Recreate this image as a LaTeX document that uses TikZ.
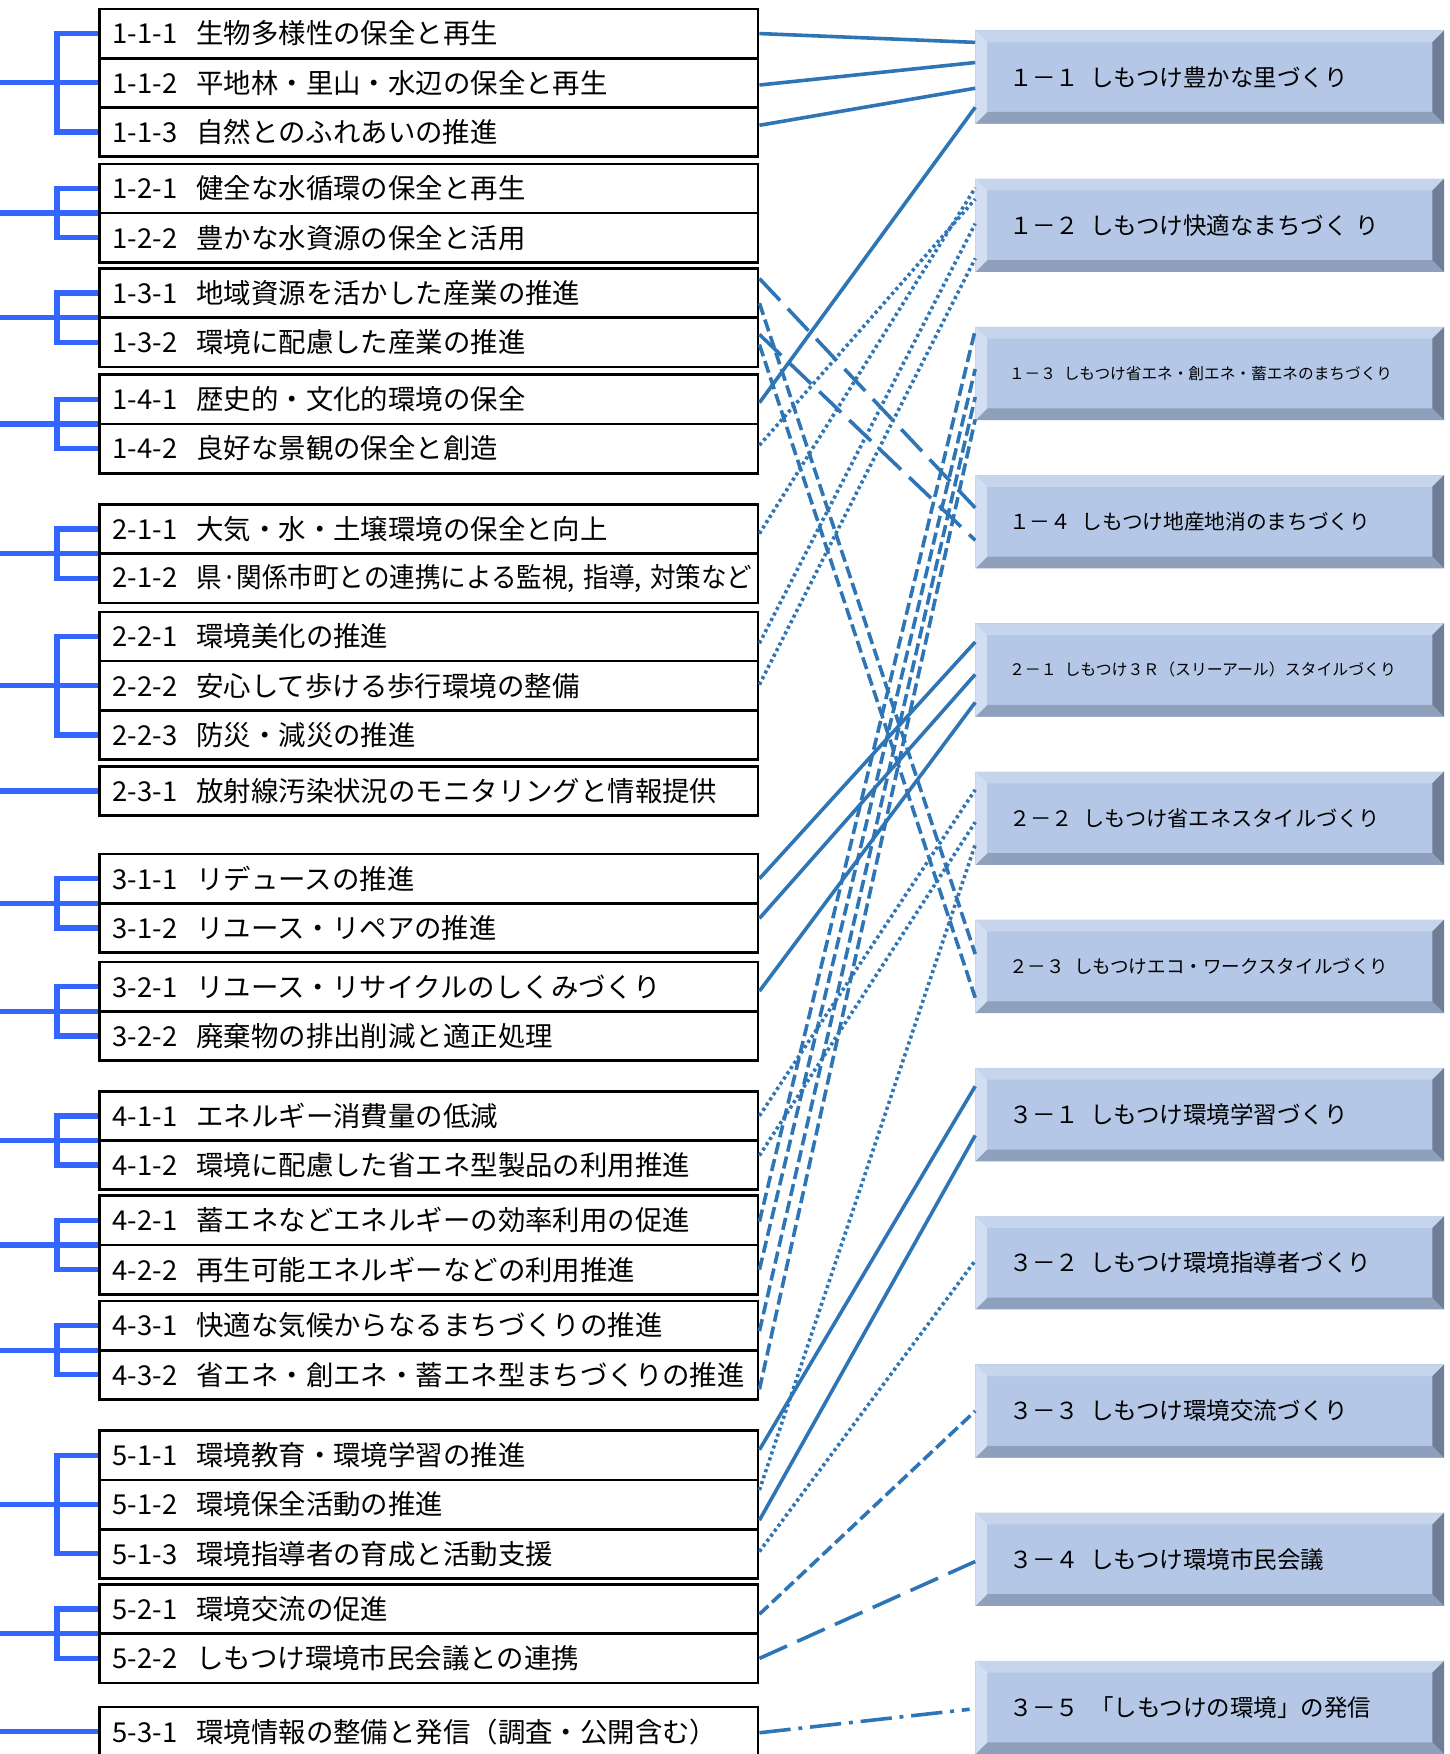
\documentclass[tikz,border=0pt]{standalone}
\usepackage{fontspec}
\setmainfont{Noto Sans CJK JP}
\usepackage{graphicx}
\usetikzlibrary{calc}
\definecolor{brC}{HTML}{3366FF}
\definecolor{lnC}{HTML}{2E75B6}
\definecolor{faceC}{HTML}{B4C7E6}
\definecolor{topC}{HTML}{C6D4EC}
\definecolor{leftC}{HTML}{D2DEF1}
\definecolor{botC}{HTML}{8FA0BC}
\definecolor{rightC}{HTML}{6F7D96}
\newcommand\rowtxt[2]{\makebox[75pt][l]{#1}#2}
\begin{document}
\begin{tikzpicture}[x=1pt,y=-1pt,
  row/.style={draw=black, line width=2.4pt, rectangle, anchor=west, minimum height=44pt,
    text width=565pt, inner xsep=12pt, inner ysep=0pt, align=left,
    font={\fontsize{24.5pt}{29pt}\selectfont}},
  rbox/.style={rectangle, minimum width=419pt, minimum height=83.4pt, inner sep=0pt, fill=faceC,
    path picture={
      \fill[topC] (path picture bounding box.north west) -- (path picture bounding box.north east)
        -- ([xshift=-10.5pt,yshift=-10.5pt]path picture bounding box.north east)
        -- ([xshift=10.5pt,yshift=-10.5pt]path picture bounding box.north west) -- cycle;
      \fill[botC] (path picture bounding box.south west) -- (path picture bounding box.south east)
        -- ([xshift=-10.5pt,yshift=10.5pt]path picture bounding box.south east)
        -- ([xshift=10.5pt,yshift=10.5pt]path picture bounding box.south west) -- cycle;
      \fill[leftC] (path picture bounding box.north west)
        -- ([xshift=10.5pt,yshift=-10.5pt]path picture bounding box.north west)
        -- ([xshift=10.5pt,yshift=10.5pt]path picture bounding box.south west)
        -- (path picture bounding box.south west) -- cycle;
      \fill[rightC] (path picture bounding box.north east)
        -- ([xshift=-10.5pt,yshift=-10.5pt]path picture bounding box.north east)
        -- ([xshift=-10.5pt,yshift=10.5pt]path picture bounding box.south east)
        -- (path picture bounding box.south east) -- cycle;
    }},
  rlab/.style={anchor=west, inner sep=0pt, text=black},
  br/.style={draw=brC, line width=4.8pt, line join=miter},
  cBase/.style={draw=lnC, line width=3.2pt},
  cSolid/.style={cBase},
  cDot/.style={cBase, dash pattern=on 2.8pt off 2.8pt},
  cDash/.style={cBase, dash pattern=on 11pt off 4.5pt},
  cLong/.style={cBase, dash pattern=on 27pt off 10pt},
  cDashDot/.style={cBase, dash pattern=on 28pt off 7pt on 3.5pt off 7pt}
]
\useasboundingbox (0,0) rectangle (1296,1568);
\fill[white] (0,0) rectangle (1296,1568);

% ---------- left rows ----------
\node[row] (L111) at (87.5,30) {\rowtxt{1-1-1}{生物多様性の保全と再生}};
\node[row] (L112) at (87.5,74) {\rowtxt{1-1-2}{平地林・里山・水辺の保全と再生}};
\node[row] (L113) at (87.5,118) {\rowtxt{1-1-3}{自然とのふれあいの推進}};
\node[row] (L121) at (87.5,168.5) {\rowtxt{1-2-1}{健全な水循環の保全と再生}};
\node[row] (L122) at (87.5,212.5) {\rowtxt{1-2-2}{豊かな水資源の保全と活用}};
\node[row] (L131) at (87.5,262) {\rowtxt{1-3-1}{地域資源を活かした産業の推進}};
\node[row] (L132) at (87.5,306) {\rowtxt{1-3-2}{環境に配慮した産業の推進}};
\node[row] (L141) at (87.5,357) {\rowtxt{1-4-1}{歴史的・文化的環境の保全}};
\node[row] (L142) at (87.5,401) {\rowtxt{1-4-2}{良好な景観の保全と創造}};
\node[row] (L211) at (87.5,473) {\rowtxt{2-1-1}{大気・水・土壌環境の保全と向上}};
\node[row] (L212) at (87.5,517) {\rowtxt{2-1-2}{\resizebox{497pt}{\height}{県·関係市町との連携による監視, 指導, 対策など}}};
\node[row] (L221) at (87.5,569) {\rowtxt{2-2-1}{環境美化の推進}};
\node[row] (L222) at (87.5,613) {\rowtxt{2-2-2}{安心して歩ける歩行環境の整備}};
\node[row] (L223) at (87.5,657) {\rowtxt{2-2-3}{防災・減災の推進}};
\node[row] (L231) at (87.5,707) {\rowtxt{2-3-1}{放射線汚染状況のモニタリングと情報提供}};
\node[row] (L311) at (87.5,785.5) {\rowtxt{3-1-1}{リデュースの推進}};
\node[row] (L312) at (87.5,829.5) {\rowtxt{3-1-2}{リユース・リペアの推進}};
\node[row] (L321) at (87.5,882) {\rowtxt{3-2-1}{リユース・リサイクルのしくみづくり}};
\node[row] (L322) at (87.5,926) {\rowtxt{3-2-2}{廃棄物の排出削減と適正処理}};
\node[row] (L411) at (87.5,997.5) {\rowtxt{4-1-1}{エネルギー消費量の低減}};
\node[row] (L412) at (87.5,1041.5) {\rowtxt{4-1-2}{環境に配慮した省エネ型製品の利用推進}};
\node[row] (L421) at (87.5,1091) {\rowtxt{4-2-1}{蓄エネなどエネルギーの効率利用の促進}};
\node[row] (L422) at (87.5,1135) {\rowtxt{4-2-2}{再生可能エネルギーなどの利用推進}};
\node[row] (L431) at (87.5,1185) {\rowtxt{4-3-1}{快適な気候からなるまちづくりの推進}};
\node[row] (L432) at (87.5,1229) {\rowtxt{4-3-2}{省エネ・創エネ・蓄エネ型まちづくりの推進}};
\node[row] (L511) at (87.5,1301) {\rowtxt{5-1-1}{環境教育・環境学習の推進}};
\node[row] (L512) at (87.5,1345) {\rowtxt{5-1-2}{環境保全活動の推進}};
\node[row] (L513) at (87.5,1389) {\rowtxt{5-1-3}{環境指導者の育成と活動支援}};
\node[row] (L521) at (87.5,1438.5) {\rowtxt{5-2-1}{環境交流の促進}};
\node[row] (L522) at (87.5,1482.5) {\rowtxt{5-2-2}{しもつけ環境市民会議との連携}};
\node[row] (L531) at (87.5,1548) {\rowtxt{5-3-1}{環境情報の整備と発信（調査・公開含む）}};

% ---------- right boxes ----------
\node[rbox] (R11) at (1081.5,68.9) {};
\node[rbox] (R12) at (1081.5,201.4) {};
\node[rbox] (R13) at (1081.5,333.9) {};
\node[rbox] (R14) at (1081.5,466.4) {};
\node[rbox] (R21) at (1081.5,598.9) {};
\node[rbox] (R22) at (1081.5,731.4) {};
\node[rbox] (R23) at (1081.5,863.9) {};
\node[rbox] (R31) at (1081.5,996.4) {};
\node[rbox] (R32) at (1081.5,1128.9) {};
\node[rbox] (R33) at (1081.5,1261.4) {};
\node[rbox] (R34) at (1081.5,1393.9) {};
\node[rbox] (R35) at (1081.5,1526.4) {};

\node[rlab, font={\fontsize{21pt}{25pt}\selectfont}] (t11) at ([xshift=30pt]R11.west) {１－１\hspace{0.45em}しもつけ豊かな里づくり};
\node[rlab, font={\fontsize{21pt}{25pt}\selectfont}] (t12) at ([xshift=30pt]R12.west) {１－２\hspace{0.45em}しもつけ快適なまちづく\hspace{0.35em}り};
\node[rlab, font={\fontsize{14pt}{17pt}\selectfont}] (t13) at ([xshift=30pt]R13.west) {１－３\hspace{0.5em}しもつけ省エネ・創エネ・蓄エネのまちづくり};
\node[rlab, font={\fontsize{18.5pt}{22pt}\selectfont}] (t14) at ([xshift=30pt]R14.west) {１－４\hspace{0.5em}しもつけ地産地消のまちづくり};
\node[rlab, font={\fontsize{14.2pt}{17pt}\selectfont}] (t21) at ([xshift=30pt]R21.west) {２－１\hspace{0.5em}しもつけ３Ｒ（スリーアール）スタイルづくり};
\node[rlab, font={\fontsize{19pt}{23pt}\selectfont}] (t22) at ([xshift=30pt]R22.west) {２－２\hspace{0.5em}しもつけ省エネスタイルづくり};
\node[rlab, font={\fontsize{16.6pt}{20pt}\selectfont}] (t23) at ([xshift=30pt]R23.west) {２－３\hspace{0.5em}しもつけエコ・ワークスタイルづくり};
\node[rlab, font={\fontsize{21pt}{25pt}\selectfont}] (t31) at ([xshift=30pt]R31.west) {３－１\hspace{0.45em}しもつけ環境学習づくり};
\node[rlab, font={\fontsize{21pt}{25pt}\selectfont}] (t32) at ([xshift=30pt]R32.west) {３－２\hspace{0.45em}しもつけ環境指導者づくり};
\node[rlab, font={\fontsize{21pt}{25pt}\selectfont}] (t33) at ([xshift=30pt]R33.west) {３－３\hspace{0.45em}しもつけ環境交流づくり};
\node[rlab, font={\fontsize{21pt}{25pt}\selectfont}] (t34) at ([xshift=30pt]R34.west) {３－４\hspace{0.45em}しもつけ環境市民会議};
\node[rlab, font={\fontsize{21pt}{25pt}\selectfont}] (t35) at ([xshift=30pt]R35.west) {３－５\hspace{0.45em}「しもつけの環境」の発信};

% ---------- brackets ----------
\coordinate (bx) at (51,0);
\coordinate (x0) at (0,0);
\coordinate (m12) at ($(L121.west)!0.5!(L122.west)$);
\coordinate (m13) at ($(L131.west)!0.5!(L132.west)$);
\coordinate (m14) at ($(L141.west)!0.5!(L142.west)$);
\coordinate (m21) at ($(L211.west)!0.5!(L212.west)$);
\coordinate (m31) at ($(L311.west)!0.5!(L312.west)$);
\coordinate (m32) at ($(L321.west)!0.5!(L322.west)$);
\coordinate (m41) at ($(L411.west)!0.5!(L412.west)$);
\coordinate (m42) at ($(L421.west)!0.5!(L422.west)$);
\coordinate (m43) at ($(L431.west)!0.5!(L432.west)$);
\coordinate (m52) at ($(L521.west)!0.5!(L522.west)$);

\draw[br] (L111.west) -- (L111.west -| bx) -- (L113.west -| bx) -- (L113.west);
\draw[br] (L112.west) -- (L112.west -| x0);
\draw[br] (L121.west) -- (L121.west -| bx) -- (L122.west -| bx) -- (L122.west);
\draw[br] (m12) -- (m12 -| x0);
\draw[br] (L131.west) -- (L131.west -| bx) -- (L132.west -| bx) -- (L132.west);
\draw[br] (m13) -- (m13 -| x0);
\draw[br] (L141.west) -- (L141.west -| bx) -- (L142.west -| bx) -- (L142.west);
\draw[br] (m14) -- (m14 -| x0);
\draw[br] (L211.west) -- (L211.west -| bx) -- (L212.west -| bx) -- (L212.west);
\draw[br] (m21) -- (m21 -| x0);
\draw[br] (L221.west) -- (L221.west -| bx) -- (L223.west -| bx) -- (L223.west);
\draw[br] (L222.west) -- (L222.west -| x0);
\draw[br] (L231.west) -- (L231.west -| x0);
\draw[br] (L311.west) -- (L311.west -| bx) -- (L312.west -| bx) -- (L312.west);
\draw[br] (m31) -- (m31 -| x0);
\draw[br] (L321.west) -- (L321.west -| bx) -- (L322.west -| bx) -- (L322.west);
\draw[br] (m32) -- (m32 -| x0);
\draw[br] (L411.west) -- (L411.west -| bx) -- (L412.west -| bx) -- (L412.west);
\draw[br] (m41) -- (m41 -| x0);
\draw[br] (L421.west) -- (L421.west -| bx) -- (L422.west -| bx) -- (L422.west);
\draw[br] (m42) -- (m42 -| x0);
\draw[br] (L431.west) -- (L431.west -| bx) -- (L432.west -| bx) -- (L432.west);
\draw[br] (m43) -- (m43 -| x0);
\draw[br] (L511.west) -- (L511.west -| bx) -- (L513.west -| bx) -- (L513.west);
\draw[br] (L512.west) -- (L512.west -| x0);
\draw[br] (L521.west) -- (L521.west -| bx) -- (L522.west -| bx) -- (L522.west);
\draw[br] (m52) -- (m52 -| x0);
\draw[br] (L531.west) -- (L531.west -| x0);

% ---------- connectors ----------
% solid
\draw[cSolid] (L111.east) -- ($(R11.west)+(0,-31)$);
\draw[cSolid] ($(L112.east)+(0,2)$) -- ($(R11.west)+(0,-13)$);
\draw[cSolid] ($(L113.east)+(0,-6)$) -- ($(R11.west)+(0,10)$);
\draw[cSolid] ($(L141.east)+(0,3)$) -- ($(R11.west)+(0,27)$);
\draw[cSolid] (L311.east) -- ($(R21.west)+(0,-25)$);
\draw[cSolid] ($(L312.east)+(0,-8.5)$) -- ($(R21.west)+(0,4)$);
\draw[cSolid] ($(L321.east)+(0,4)$) -- ($(R21.west)+(0,29)$);
\draw[cSolid] ($(L511.east)+(0,-5)$) -- ($(R31.west)+(0,-25.4)$);
\draw[cSolid] ($(L512.east)+(0,14)$) -- ($(R31.west)+(0,18.6)$);
% dotted
\draw[cDot] ($(L142.east)+(0,-3)$) -- ($(R12.west)+(0,-23.4)$);
\draw[cDot] ($(L211.east)+(0,4)$) -- ($(R12.west)+(0,-33.4)$);
\draw[cDot] ($(L221.east)+(0,6)$) -- ($(R12.west)+(0,-1.4)$);
\draw[cDot] ($(L222.east)+(0,-1)$) -- ($(R12.west)+(0,29.6)$);
\draw[cDot] (L411.east) -- ($(R22.west)+(0,-25.4)$);
\draw[cDot] ($(L412.east)+(0,-8.5)$) -- ($(R22.west)+(0,3.6)$);
\draw[cDot] ($(L512.east)+(0,-13)$) -- ($(R22.west)+(0,23.6)$);
\draw[cDot] ($(L513.east)+(0,-2)$) -- ($(R32.west)+(0,-2)$);
% dashed
\draw[cDash] ($(L421.east)+(0,1)$) -- ($(R13.west)+(0,-39)$);
\draw[cDash] (L422.east) -- ($(R13.west)+(0,-4)$);
\draw[cDash] ($(L431.east)+(0,5)$) -- ($(R13.west)+(0,21)$);
\draw[cDash] ($(L432.east)+(0,13)$) -- ($(R13.west)+(0,41)$);
\draw[cDash] ($(L131.east)+(0,9)$) -- ($(R23.west)+(0,-11)$);
\draw[cDash] ($(L132.east)+(0,2)$) -- ($(R23.west)+(0,28)$);
\draw[cDash] ($(L521.east)+(0,4.5)$) -- (R33.west);
% long dashed
\draw[cLong] ($(L131.east)+(0,-13)$) -- ($(R14.west)+(0,-12.4)$);
\draw[cLong] ($(L132.east)+(0,-7)$) -- ($(R14.west)+(0,16.6)$);
\draw[cLong] (L522.east) -- ($(R34.west)+(0,2)$);
% dash dot
\draw[cDashDot] ($(L531.east)+(0,1)$) -- ($(R35.west)+(-5,1.6)$);
\end{tikzpicture}
\end{document}
